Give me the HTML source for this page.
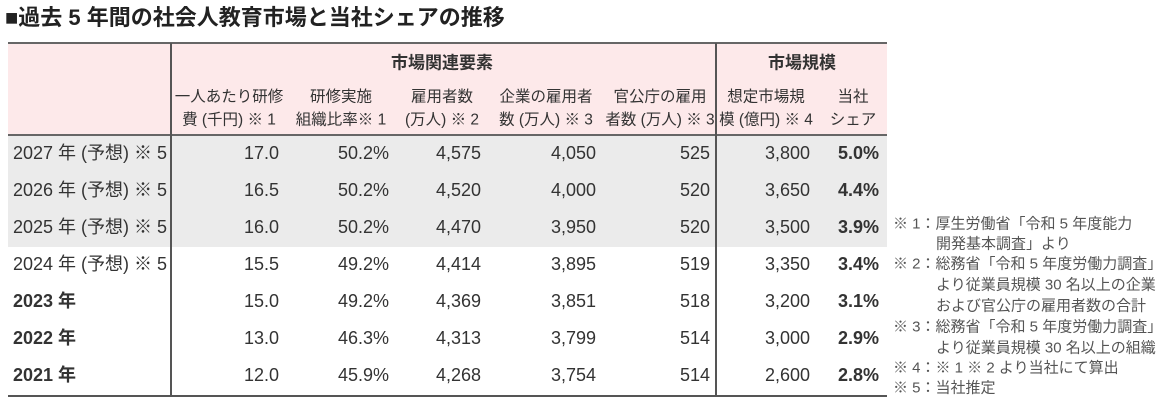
<!DOCTYPE html>
<html><head><meta charset="utf-8"><style>
body{margin:0;width:1169px;height:401px;background:#fff;position:relative;overflow:hidden;font-family:"Liberation Sans","Noto Sans CJK JP",sans-serif;color:#333}
.a{position:absolute;white-space:nowrap;line-height:1}
.h{font-size:15.5px;transform:translate(-50%,-50%)}
.d{font-size:18px;transform:translate(-100%,-50%)}
.l{font-size:18px;transform:translateY(-50%)}
.n{font-size:15px;color:#555;transform:translateY(-50%)}
b{font-weight:bold}
</style></head><body>
<div class="a" style="left:5px;top:7px;font-size:22px;font-weight:bold;color:#222">■過去 5 年間の社会人教育市場と当社シェアの推移</div>
<div class="a" style="left:8px;top:43px;width:879px;height:92px;background:#fde9ea"></div>
<div class="a" style="left:8px;top:135px;width:879px;height:112px;background:#ebebeb"></div>
<div class="a" style="left:8px;top:42px;width:879px;height:2px;background:#666"></div>
<div class="a" style="left:8px;top:134px;width:879px;height:2px;background:#666"></div>
<div class="a" style="left:8px;top:395px;width:879px;height:2px;background:#555"></div>
<div class="a" style="left:170px;top:43px;width:2px;height:353px;background:#555"></div>
<div class="a" style="left:715px;top:43px;width:2px;height:353px;background:#555"></div>

<div class="a h" style="left:442px;top:63px;font-weight:bold;font-size:17px">市場関連要素</div>
<div class="a h" style="left:802px;top:63px;font-weight:bold;font-size:17px">市場規模</div>

<div class="a h" style="left:229px;top:97px">一人あたり研修</div><div class="a h" style="left:229px;top:120px">費 (千円) ※ 1</div>
<div class="a h" style="left:341px;top:97px">研修実施</div><div class="a h" style="left:341px;top:120px">組織比率※ 1</div>
<div class="a h" style="left:442px;top:97px">雇用者数</div><div class="a h" style="left:442px;top:120px">(万人) ※ 2</div>
<div class="a h" style="left:546px;top:97px">企業の雇用者</div><div class="a h" style="left:546px;top:120px">数 (万人) ※ 3</div>
<div class="a h" style="left:660px;top:97px">官公庁の雇用</div><div class="a h" style="left:660px;top:120px">者数 (万人) ※ 3</div>
<div class="a h" style="left:766px;top:97px">想定市場規</div><div class="a h" style="left:766px;top:120px">模 (億円) ※ 4</div>
<div class="a h" style="left:853px;top:97px">当社</div><div class="a h" style="left:853px;top:120px">シェア</div>

<div id="rows"></div>
<script>
var R=[["2027 年 (予想) ※ 5",0,"17.0","50.2%","4,575","4,050","525","3,800","5.0%"],
["2026 年 (予想) ※ 5",0,"16.5","50.2%","4,520","4,000","520","3,650","4.4%"],
["2025 年 (予想) ※ 5",0,"16.0","50.2%","4,470","3,950","520","3,500","3.9%"],
["2024 年 (予想) ※ 5",0,"15.5","49.2%","4,414","3,895","519","3,350","3.4%"],
["2023 年",1,"15.0","49.2%","4,369","3,851","518","3,200","3.1%"],
["2022 年",1,"13.0","46.3%","4,313","3,799","514","3,000","2.9%"],
["2021 年",1,"12.0","45.9%","4,268","3,754","514","2,600","2.8%"]];
var X=[279,389,481,596,710,810,879],h="";
R.forEach(function(r,i){var y=153+i*37;
h+='<div class="a l" style="left:13px;top:'+y+'px;'+(r[1]?'font-weight:bold':'')+'">'+r[0]+'</div>';
for(var j=0;j<7;j++)h+='<div class="a d" style="left:'+X[j]+'px;top:'+y+'px;'+(j==6?'font-weight:bold':'')+'">'+r[j+2]+'</div>';});
document.getElementById("rows").innerHTML=h;
</script>

<div class="a n" style="left:893px;top:224px">※ 1：厚生労働省「令和 5 年度能力</div>
<div class="a n" style="left:936px;top:244px">開発基本調査」より</div>
<div class="a n" style="left:893px;top:264px">※ 2：総務省「令和 5 年度労働力調査」</div>
<div class="a n" style="left:936px;top:285px">より従業員規模 30 名以上の企業</div>
<div class="a n" style="left:936px;top:306px">および官公庁の雇用者数の合計</div>
<div class="a n" style="left:893px;top:327px">※ 3：総務省「令和 5 年度労働力調査」</div>
<div class="a n" style="left:936px;top:348px">より従業員規模 30 名以上の組織</div>
<div class="a n" style="left:893px;top:368px">※ 4：※ 1 ※ 2 より当社にて算出</div>
<div class="a n" style="left:893px;top:388px">※ 5：当社推定</div>
</body></html>
